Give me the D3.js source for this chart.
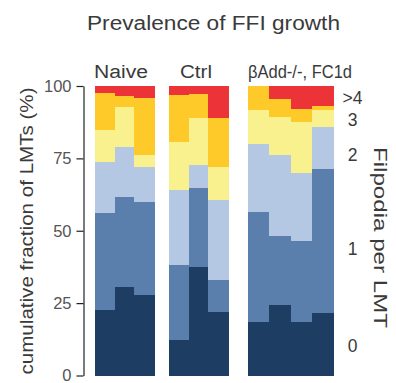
<!DOCTYPE html>
<html>
<head>
<meta charset="utf-8">
<script src="https://cdn.jsdelivr.net/npm/d3@7"></script>
<style>
  html, body { margin: 0; padding: 0; background: #fff; }
  svg { display: block; font-family: "Liberation Sans", Arial, sans-serif; }
</style>
</head>
<body>
<svg id="chart" width="396" height="383"></svg>
<script>
// Filopodia-count classes, bottom to top of each stack
const classes = ["0", "1", "2", "3", "4", ">4"];
const classColors = ["#1e3d63", "#5a7fad", "#b4c8e3", "#f9f08e", "#fdca2a", "#ec3338"];

const groups = ["Naive", "Ctrl", "βAdd-/-, FC1d"];

// Cumulative upper bound (%) of each class per animal, one row per bar
const naive = [
  [22.5, 56.0, 73.8, 84.8, 97.5, 100],
  [30.6, 61.7, 79.0, 92.8, 96.7, 100],
  [27.7, 59.8, 72.1, 76.1, 96.0, 100]
];
const ctrl = [
  [12.1, 38.1, 64.0, 80.7, 96.9, 100],
  [37.5, 64.6, 72.7, 88.8, 97.1, 100],
  [21.9, 32.9, 60.6, 72.1, 88.8, 100]
];
const badd = [
  [18.5, 56.5, 79.8, 91.7, 100, 100],
  [24.2, 48.1, 76.1, 89.4, 95.5, 100],
  [18.5, 46.5, 69.8, 87.7, 92.0, 100],
  [21.7, 71.2, 85.7, 91.7, 93.2, 100]
];
const groupData = [naive, ctrl, badd];

const yTicks = [0, 25, 50, 75, 100];

// Right-hand class labels and the level (%) each one sits at
const sideLabels = [">4", "3", "2", "1", "0"];
const sideLabelLevels = [95.9, 88.6, 76.5, 44.0, 10.5];

const svg = d3.select("#chart");
const textColor = "#3a3a3a";

const y = d3.scaleLinear().domain([0, 100]).range([375.5, 86]);

// Horizontal extent of each group of bars, and label placement above it
const groupExtents = [[95, 154], [169, 228], [248, 333]];
const groupLabelCenters = [121, 196, 300];
const groupLabelLengths = [54, 32, 104];

groupData.forEach((rows, gi) => {
  const xb = d3.scaleBand()
    .domain(d3.range(rows.length))
    .range(groupExtents[gi])
    .paddingInner(0)
    .paddingOuter(0);

  const segs = [];
  rows.forEach((cum, bi) => {
    cum.forEach((top, ci) => {
      const bottom = ci === 0 ? 0 : cum[ci - 1];
      if (top > bottom) segs.push({ bi, ci, bottom, top });
    });
  });

  svg.append("g")
    .selectAll("rect")
    .data(segs)
    .join("rect")
    .attr("x", d => xb(d.bi))
    .attr("width", xb.bandwidth() + 0.5)
    .attr("y", d => y(d.top))
    .attr("height", d => y(d.bottom) - y(d.top))
    .attr("fill", d => classColors[d.ci])
    .attr("shape-rendering", "crispEdges");

  svg.append("text")
    .attr("x", groupLabelCenters[gi])
    .attr("y", 78)
    .attr("text-anchor", "middle")
    .attr("font-size", 18)
    .attr("textLength", groupLabelLengths[gi])
    .attr("lengthAdjust", "spacingAndGlyphs")
    .attr("fill", textColor)
    .text(groups[gi]);
});

// Y axis
const yAxis = d3.axisLeft(y)
  .tickValues(yTicks)
  .tickSize(7)
  .tickPadding(5)
  .tickSizeOuter(0);

const ag = svg.append("g")
  .attr("transform", "translate(83.5,0)")
  .call(yAxis);
ag.select(".domain").attr("stroke", "#222").attr("stroke-width", 1.2);
ag.selectAll(".tick line").attr("stroke", "#222").attr("stroke-width", 1.2);
ag.selectAll(".tick text")
  .attr("font-size", 16.5)
  .attr("fill", "#555")
  .attr("font-family", "Liberation Sans, Arial, sans-serif");

// Y axis title
svg.append("text")
  .attr("transform", `translate(32.5,231) rotate(-90)`)
  .attr("text-anchor", "middle")
  .attr("font-size", 18)
  .attr("textLength", 287)
  .attr("lengthAdjust", "spacingAndGlyphs")
  .attr("fill", textColor)
  .text("cumulative fraction of LMTs (%)");

// Class labels on the right
svg.append("g")
  .selectAll("text")
  .data(sideLabels)
  .join("text")
  .attr("x", 352.5)
  .attr("y", (d, i) => y(sideLabelLevels[i]) + 6.5)
  .attr("text-anchor", "middle")
  .attr("font-size", 17.5)
  .attr("fill", textColor)
  .text(d => d);

// Right-hand title
svg.append("text")
  .attr("transform", `translate(373.5,237.5) rotate(90)`)
  .attr("text-anchor", "middle")
  .attr("font-size", 18)
  .attr("textLength", 181)
  .attr("lengthAdjust", "spacingAndGlyphs")
  .attr("fill", textColor)
  .text("Filpodia per LMT");

// Chart title
svg.append("text")
  .attr("x", 213.5)
  .attr("y", 29.5)
  .attr("text-anchor", "middle")
  .attr("font-size", 19.5)
  .attr("textLength", 253)
  .attr("lengthAdjust", "spacingAndGlyphs")
  .attr("fill", textColor)
  .text("Prevalence of FFI growth");
</script>
</body>
</html>
